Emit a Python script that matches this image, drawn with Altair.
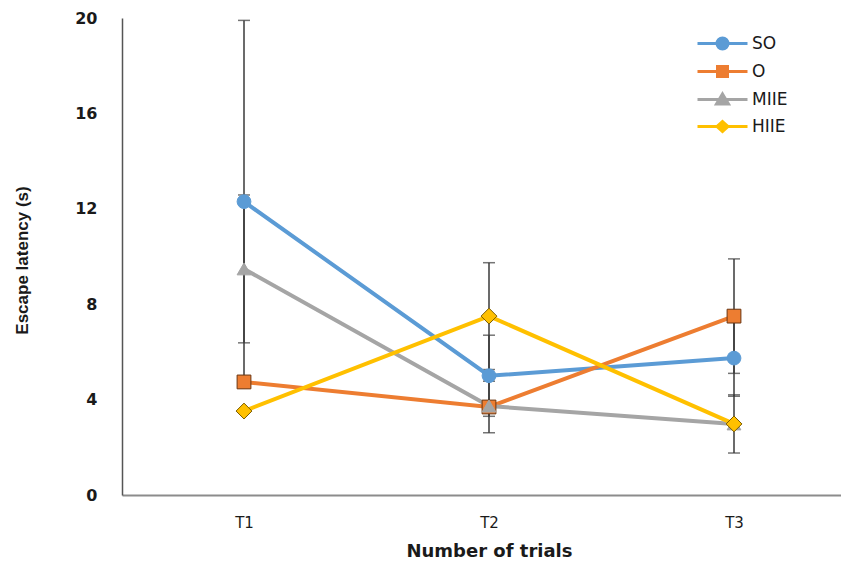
import altair as alt
import pandas as pd

trials = ["T1", "T2", "T3"]
series = ["SO", "O", "MIIE", "HIIE"]
values = {
    "SO": [12.3, 5.0, 5.74],
    "O": [4.74, 3.69, 7.5],
    "MIIE": [9.48, 3.73, 2.98],
    "HIIE": [3.52, 7.5, 2.98],
}
errors = {
    "SO": [7.6, 1.7, 1.6],
    "O": [0.0, 1.08, 2.4],
    "MIIE": [3.1, 0.0, 0.0],
    "HIIE": [0.0, 2.24, 1.22],
}
y_ticks = [0, 4, 8, 12, 16, 20]

colors = ["#5B9BD5", "#ED7D31", "#A5A5A5", "#FFC000"]
outlines = ["#5B9BD5", "#6b3510", "#A5A5A5", "#7a5c00"]
shapes = ["circle", "square", "triangle-up", "M0,-1.15L1.15,0L0,1.15L-1.15,0Z"]

legend_paths = [
    "M-2.5,0L2.5,0M-0.55,0A0.55,0.55,0,1,1,0.55,0A0.55,0.55,0,1,1,-0.55,0Z",
    "M-2.5,0L-0.5,0M0.5,0L2.5,0M-0.5,-0.5L0.5,-0.5L0.5,0.5L-0.5,0.5Z",
    "M-2.5,0L2.5,0M0,-0.55L0.6,0.45L-0.6,0.45Z",
    "M-2.5,0L-0.55,0M0.55,0L2.5,0M0,-0.5L0.55,0L0,0.5L-0.55,0Z",
]

rows = []
for s in series:
    for i, t in enumerate(trials):
        v = values[s][i]
        e = errors[s][i]
        rows.append({"series": s, "idx": i + 1, "trial": t, "v": v,
                     "lo": v - e, "hi": v + e, "e": e})
df = pd.DataFrame(rows)

W, H = 719, 477
x_dom = [1 - 122 / 245, 1 + (W - 122) / 245]
label_expr = "[" + ",".join("'%s'" % t for t in trials) + "][datum.value - 1]"

x_enc = alt.X("idx:Q", scale=alt.Scale(domain=x_dom, nice=False, zero=False),
              axis=alt.Axis(values=[1, 2, 3], labelExpr=label_expr, grid=False, ticks=False,
                            domainColor="#8c8c8c", domainWidth=2, labelPadding=20,
                            labelFont="DejaVu Sans", labelFontSize=15, labelColor="#1a1a1a",
                            title="Number of trials", titleFont="DejaVu Sans", titleFontSize=18,
                            titleFontWeight="bold", titleColor="#1a1a1a",
                            titleX=367, titleY=56, titleBaseline="middle", titleAlign="center"))
y_scale = alt.Scale(domain=[0, 20], nice=False)
y_axis = alt.Axis(values=y_ticks, grid=False, ticks=False, domainColor="#555555",
                  domainWidth=1.5, labelPadding=25, labelFont="DejaVu Sans",
                  labelFontSize=16, labelFontWeight="bold", labelColor="#1a1a1a",
                  title="Escape latency (s)", titleFont="Liberation Sans",
                  titleFontSize=17, titleFontWeight="bold", titleColor="#1a1a1a",
                  titleX=-100, titleY=242, titleAngle=-90,
                  titleBaseline="middle", titleAlign="center")


def Y(field):
    return alt.Y(field, type="quantitative", scale=y_scale, axis=y_axis)


base = alt.Chart(df)
err_df = base.transform_filter("datum.e > 0")

rules = err_df.mark_rule(color="#3a3a3a", strokeWidth=1.5).encode(
    x=x_enc, y=Y("lo"), y2="hi:Q")
cap_lo = err_df.mark_tick(color="#3a3a3a", orient="horizontal", size=12, thickness=1.5).encode(
    x=x_enc, y=Y("lo"))
cap_hi = err_df.mark_tick(color="#3a3a3a", orient="horizontal", size=12, thickness=1.5).encode(
    x=x_enc, y=Y("hi"))

lines = base.mark_line(strokeWidth=4).encode(
    x=x_enc, y=Y("v"),
    color=alt.Color("series:N", scale=alt.Scale(domain=series, range=colors), legend=None),
    order="idx:Q")

points = base.mark_point(filled=True, size=190, strokeWidth=1, opacity=1).encode(
    x=x_enc, y=Y("v"),
    fill=alt.Fill("series:N", scale=alt.Scale(domain=series, range=colors), legend=None),
    stroke=alt.Stroke("series:N", scale=alt.Scale(domain=series, range=outlines), legend=None),
    shape=alt.Shape("series:N", scale=alt.Scale(domain=series, range=shapes), legend=None))

leg = alt.Legend(title=None, orient="none", legendX=589, legendY=14, padding=0,
                 symbolSize=400, symbolStrokeWidth=3, symbolOpacity=1, labelOffset=18,
                 rowPadding=5, labelFont="DejaVu Sans", labelFontSize=17, labelColor="#1a1a1a")
legend_layer = base.mark_point(filled=True, opacity=0, strokeWidth=3).encode(
    x=x_enc, y=Y("v"),
    fill=alt.Fill("series:N", scale=alt.Scale(domain=series, range=colors), legend=leg),
    stroke=alt.Stroke("series:N", scale=alt.Scale(domain=series, range=colors), legend=leg),
    shape=alt.Shape("series:N", scale=alt.Scale(domain=series, range=legend_paths), legend=leg))

chart = alt.layer(rules, cap_lo, cap_hi, lines, points, legend_layer).resolve_scale(
    fill="independent", stroke="independent", shape="independent", color="independent"
).properties(
    width=W, height=H,
    autosize=alt.AutoSizeParams(type="none"),
    padding={"left": 114, "top": 10, "right": 0, "bottom": 72},
).configure_view(stroke=None)

chart.save("out.html", embed_options={"renderer": "svg", "actions": False})
